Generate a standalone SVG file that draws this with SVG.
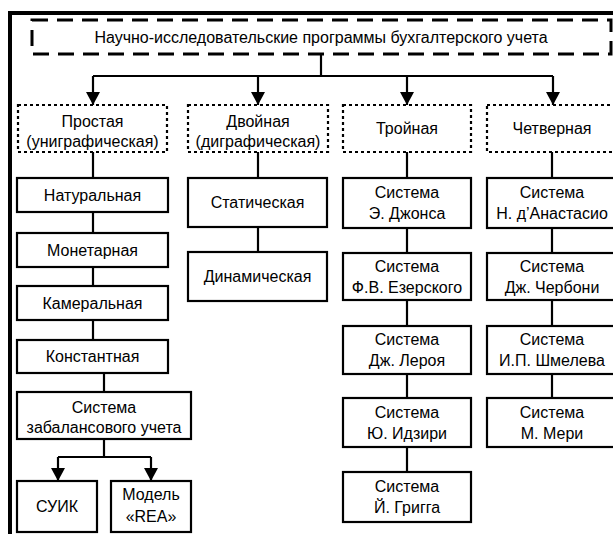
<svg xmlns="http://www.w3.org/2000/svg" width="613" height="534" viewBox="0 0 613 534">
<style>
  text { font-family: "Liberation Sans", Arial, sans-serif; font-size: 16px; fill: #000; text-anchor: middle; }
  .box { fill: #fff; stroke: #000; stroke-width: 2.2; }
  .dot { fill: #fff; stroke: #000; stroke-width: 2.2; stroke-dasharray: 3 3; }
  .dash { fill: none; stroke: #000; stroke-width: 3; stroke-dasharray: 16 9; }
  .frame { fill: none; stroke: #000; stroke-width: 4; }
  .conn { fill: none; stroke: #000; stroke-width: 2.2; }
</style>
<defs>
  <marker id="arr" markerUnits="userSpaceOnUse" markerWidth="14" markerHeight="14" refX="13" refY="7" orient="auto">
    <path d="M0,0 L13,7 L0,14 z" fill="#000"/>
  </marker>
</defs>
<rect width="613" height="534" fill="#fff"/>
<path class="frame" d="M10,534 V13 H613"/>

<g id="connectors">
  <path class="conn" d="M321,54 V76"/>
  <path class="conn" d="M93,76 H553"/>
  <path class="conn" d="M93,76 V105" marker-end="url(#arr)"/>
  <path class="conn" d="M258,76 V105" marker-end="url(#arr)"/>
  <path class="conn" d="M407,76 V105" marker-end="url(#arr)"/>
  <path class="conn" d="M553,76 V105" marker-end="url(#arr)"/>
  <!-- column 1 -->
  <path class="conn" d="M93,152 V178 M93,212 V233 M93,267 V286 M93,320 V340"/>
  <path class="conn" d="M104,373 V392 M104,439 V457 M58,457 H151"/>
  <path class="conn" d="M58,457 V481" marker-end="url(#arr)"/>
  <path class="conn" d="M151,457 V481" marker-end="url(#arr)"/>
  <!-- column 2 -->
  <path class="conn" d="M258,152 V178 M258,227 V252"/>
  <!-- column 3 -->
  <path class="conn" d="M407,152 V178 M407,228 V253 M407,300 V326 M407,374 V398 M407,447 V472"/>
  <!-- column 4 -->
  <path class="conn" d="M552,152 V178 M552,228 V253 M552,300 V326 M552,374 V398"/>
</g>

<g id="root">
  <rect class="dash" x="32" y="20" width="579" height="34"/>
  <text x="321" y="43">Научно-исследовательские программы бухгалтерского учета</text>
</g>

<g id="simple">
  <rect class="dot" x="18" y="105" width="149" height="47"/>
  <text x="92.5" y="127">Простая</text>
  <text x="92.5" y="147">(униграфическая)</text>
</g>
<g id="double">
  <rect class="dot" x="188" y="105" width="140" height="47"/>
  <text x="258" y="127">Двойная</text>
  <text x="258" y="147">(диграфическая)</text>
</g>
<g id="triple">
  <rect class="dot" x="343" y="105" width="128" height="47"/>
  <text x="407" y="134">Тройная</text>
</g>
<g id="quad">
  <rect class="dot" x="487" y="105" width="135" height="47"/>
  <text x="552" y="134">Четверная</text>
</g>

<g id="natural">
  <rect class="box" x="17" y="178" width="151" height="34"/>
  <text x="92.5" y="201">Натуральная</text>
</g>
<g id="monetary">
  <rect class="box" x="17" y="233" width="151" height="34"/>
  <text x="92.5" y="256">Монетарная</text>
</g>
<g id="cameral">
  <rect class="box" x="17" y="286" width="151" height="34"/>
  <text x="92.5" y="309">Камеральная</text>
</g>
<g id="constant">
  <rect class="box" x="17" y="340" width="151" height="33"/>
  <text x="92.5" y="362">Константная</text>
</g>
<g id="offbalance">
  <rect class="box" x="17" y="392" width="174" height="47"/>
  <text x="104" y="412.5">Система</text>
  <text x="104" y="432.5">забалансового учета</text>
</g>
<g id="suik">
  <rect class="box" x="17" y="481" width="80" height="51"/>
  <text x="57" y="512">СУИК</text>
</g>
<g id="rea">
  <rect class="box" x="111" y="481" width="80" height="51"/>
  <text x="151" y="500">Модель</text>
  <text x="151" y="522">«REA»</text>
</g>

<g id="static">
  <rect class="box" x="188" y="178" width="139" height="49"/>
  <text x="257.5" y="208">Статическая</text>
</g>
<g id="dynamic">
  <rect class="box" x="188" y="252" width="139" height="49"/>
  <text x="257.5" y="282">Динамическая</text>
</g>

<g id="jones">
  <rect class="box" x="343" y="178" width="128" height="50"/>
  <text x="407" y="197.5">Система</text>
  <text x="407" y="218.5">Э. Джонса</text>
</g>
<g id="ezersky">
  <rect class="box" x="343" y="253" width="128" height="47"/>
  <text x="407" y="272">Система</text>
  <text x="407" y="293">Ф.В. Езерского</text>
</g>
<g id="leroy">
  <rect class="box" x="343" y="326" width="128" height="48"/>
  <text x="407" y="345">Система</text>
  <text x="407" y="366">Дж. Лероя</text>
</g>
<g id="ijiri">
  <rect class="box" x="343" y="398" width="128" height="49"/>
  <text x="407" y="417.5">Система</text>
  <text x="407" y="438.5">Ю. Идзири</text>
</g>
<g id="grigg">
  <rect class="box" x="343" y="472" width="128" height="50"/>
  <text x="407" y="492">Система</text>
  <text x="407" y="513">Й. Григга</text>
</g>

<g id="danastasio">
  <rect class="box" x="487" y="178" width="135" height="50"/>
  <text x="552" y="197.5">Система</text>
  <text x="552" y="218.5">Н. д’Анастасио</text>
</g>
<g id="cerboni">
  <rect class="box" x="487" y="253" width="135" height="47"/>
  <text x="552" y="272">Система</text>
  <text x="552" y="293">Дж. Чербони</text>
</g>
<g id="shmelev">
  <rect class="box" x="487" y="326" width="135" height="48"/>
  <text x="552" y="345">Система</text>
  <text x="552" y="366">И.П. Шмелева</text>
</g>
<g id="mery">
  <rect class="box" x="487" y="398" width="135" height="49"/>
  <text x="552" y="417.5">Система</text>
  <text x="552" y="438.5">М. Мери</text>
</g>
</svg>
